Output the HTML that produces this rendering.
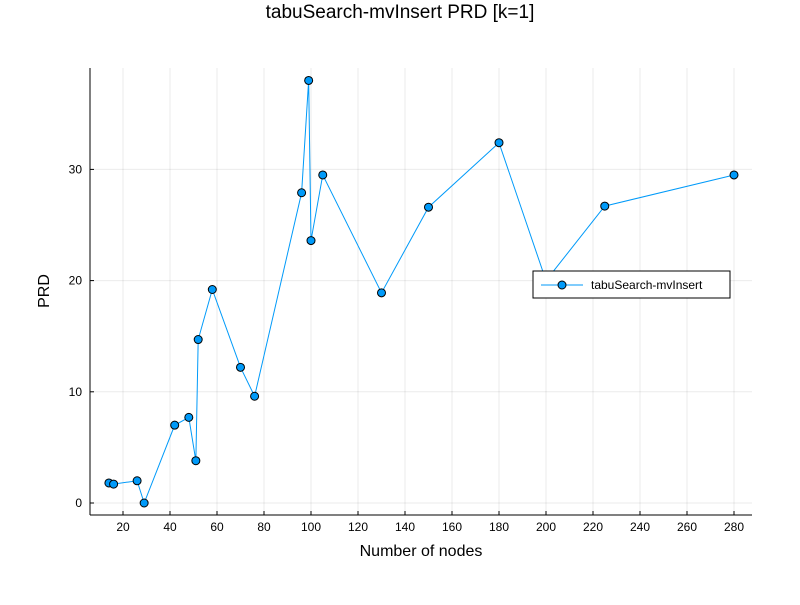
<!DOCTYPE html>
<html><head><meta charset="utf-8"><style>body{margin:0;background:#fff}svg{font-family:"Liberation Sans",sans-serif}</style></head>
<body>
<svg id="c" width="800" height="600"></svg>
<script>
const nodes=[14,16,26,29,42,48,51,52,58,70,76,96,99,100,105,130,150,180,200,225,280];
const prd=[1.8,1.7,2.0,0,7.0,7.7,3.8,14.7,19.2,12.2,9.6,27.9,38.0,23.6,29.5,18.9,26.6,32.4,20.0,26.7,29.5];
const xTicks=[20,40,60,80,100,120,140,160,180,200,220,240,260,280];
const yTicks=[0,10,20,30];
const L=90,R=752,T=68,B=515;
const sx=v=>76+v*2.35, sy=v=>503-v*11.12;
const svg=document.getElementById('c');const NS='http://www.w3.org/2000/svg';
function el(t,a,p){const e=document.createElementNS(NS,t);for(const k in a)e.setAttribute(k,a[k]);(p||svg).appendChild(e);return e;}
let t=el('text',{x:400,y:18,'text-anchor':'middle','font-size':19,fill:'#000'});t.textContent='tabuSearch-mvInsert PRD [k=1]';

xTicks.forEach(v=>{const g=el('line',{x1:sx(v),x2:sx(v),y1:T,y2:B,stroke:'#000','stroke-opacity':0.08});

el('line',{x1:sx(v),x2:sx(v),y1:B,y2:B-4,stroke:'#000'});
const l=el('text',{x:sx(v),y:B+16,'text-anchor':'middle','font-size':12});l.textContent=v;
});
yTicks.forEach(v=>{const g=el('line',{x1:L,x2:R,y1:sy(v),y2:sy(v),stroke:'#000','stroke-opacity':0.08});

el('line',{x1:L,x2:L+4,y1:sy(v),y2:sy(v),stroke:'#000'});
const l=el('text',{x:L-8,y:sy(v)+4,'text-anchor':'end','font-size':12});l.textContent=v;
});
let a=el('line',{x1:L,x2:R,y1:B,y2:B,stroke:'#000'});
a=el('line',{x1:L,x2:L,y1:T,y2:B,stroke:'#000'});
t=el('text',{x:421,y:556,'text-anchor':'middle','font-size':16});t.textContent='Number of nodes';

t=el('text',{x:49,y:291,'text-anchor':'middle','font-size':16,transform:'rotate(-90 49 291)'});t.textContent='PRD';

const line=el('polyline',{points:nodes.map((v,i)=>sx(v)+','+sy(prd[i])).join(' '),fill:'none',stroke:'#009af9','stroke-width':1});

nodes.forEach((v,i)=>{const c=el('circle',{cx:sx(v),cy:sy(prd[i]),r:4,fill:'#009af9',stroke:'#000','stroke-width':1});
});
const lg=el('g',{});
el('rect',{x:533,y:271,width:197,height:27,fill:'#fff',stroke:'#000','stroke-width':1},lg);
el('line',{x1:541,x2:583,y1:285,y2:285,stroke:'#009af9'},lg);
el('circle',{cx:562,cy:285,r:4,fill:'#009af9',stroke:'#000'},lg);
t=el('text',{x:591,y:289,'font-size':12},lg);t.textContent='tabuSearch-mvInsert';

</script>
</body></html>
